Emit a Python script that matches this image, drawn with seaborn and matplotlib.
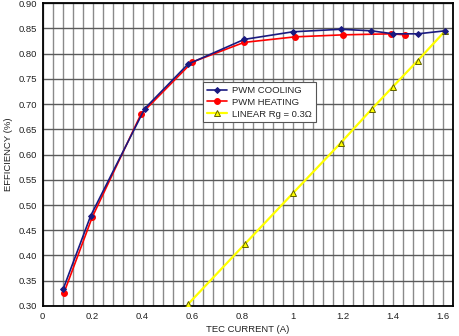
import numpy as np
import pandas as pd
import matplotlib
matplotlib.use("Agg")
import matplotlib.pyplot as plt
from matplotlib.ticker import MultipleLocator, FuncFormatter
import seaborn as sns

cool_x = [0.083, 0.193, 0.409, 0.582, 0.807, 1.001, 1.193, 1.315, 1.403, 1.501, 1.611]
cool_y = [0.334, 0.479, 0.691, 0.779, 0.828, 0.843, 0.848, 0.845, 0.839, 0.839, 0.845]
heat_x = [0.085, 0.199, 0.394, 0.599, 0.806, 1.010, 1.203, 1.393, 1.451]
heat_y = [0.325, 0.476, 0.680, 0.783, 0.822, 0.833, 0.837, 0.839, 0.837]
lin_x = [0.583, 0.810, 1.001, 1.193, 1.317, 1.401, 1.501, 1.611]
lin_y = [0.304, 0.423, 0.523, 0.623, 0.690, 0.734, 0.786, 0.845]
labels = ["PWM COOLING", "PWM HEATING", "LINEAR Rg = 0.3\u03a9"]

sns.set_theme(style="white")
plt.rcParams['font.family'] = ['Liberation Sans', 'DejaVu Sans']

fig = plt.figure(figsize=(4.6, 3.36), dpi=100)
ax = fig.add_axes([0.0924, 0.0893, 0.8913, 0.9017])

df_c = pd.DataFrame({"x": cool_x, "y": cool_y})
df_h = pd.DataFrame({"x": heat_x, "y": heat_y})
df_l = pd.DataFrame({"x": lin_x, "y": lin_y})

sns.lineplot(data=df_l, x="x", y="y", ax=ax, color="#ffff00", lw=1.6, marker="^",
             markersize=4.2, markerfacecolor="#ffff00", markeredgecolor="#606000",
             markeredgewidth=0.7, sort=False, estimator=None, label=labels[2], zorder=3)
sns.lineplot(data=df_h, x="x", y="y", ax=ax, color="#ff0000", lw=1.2, marker="o",
             markersize=4.2, markeredgecolor="#ff0000", sort=False, estimator=None,
             label=labels[1], zorder=4)
sns.lineplot(data=df_c, x="x", y="y", ax=ax, color="#1a1a80", lw=1.2, marker="D",
             markersize=3.0, markeredgecolor="#1a1a80", sort=False, estimator=None,
             label=labels[0], zorder=5)

ax.set_xlim(0, 1.64)
ax.set_ylim(0.30, 0.90)
ax.xaxis.set_major_locator(MultipleLocator(0.2))
ax.xaxis.set_minor_locator(MultipleLocator(0.04))
ax.yaxis.set_major_locator(MultipleLocator(0.05))
ax.xaxis.set_major_formatter(FuncFormatter(lambda v, p: "%g" % round(v, 2)))
ax.yaxis.set_major_formatter(FuncFormatter(lambda v, p: "%.2f" % v))
ax.grid(True, which="major", axis="y", color="#5a5a5a", lw=1.0)
ax.grid(True, which="both", axis="x", color="#8a8a8a", lw=1.0)
ax.set_axisbelow(True)
ax.tick_params(which="both", length=0, labelsize=6.8, colors="#222222", pad=4)
for s in ax.spines.values():
    s.set_color("black")
    s.set_linewidth(1.3)
ax.set_xlabel("TEC CURRENT (A)", fontsize=6.8, color="#222222", labelpad=3)
ax.set_ylabel("EFFICIENCY (%)", fontsize=6.8, color="#222222", labelpad=4)

h, l = ax.get_legend_handles_labels()
order = [l.index(t) for t in labels]
leg = ax.legend([h[i] for i in order], [l[i] for i in order], loc="upper left",
                bbox_to_anchor=(0.391, 0.739), borderaxespad=0, fontsize=6.8,
                frameon=True, fancybox=False, edgecolor="#555555", framealpha=1,
                borderpad=0.4, labelspacing=0.3, handlelength=2.2, handletextpad=0.5)
leg.get_frame().set_linewidth(0.8)

fig.savefig("out.png", dpi=100)
